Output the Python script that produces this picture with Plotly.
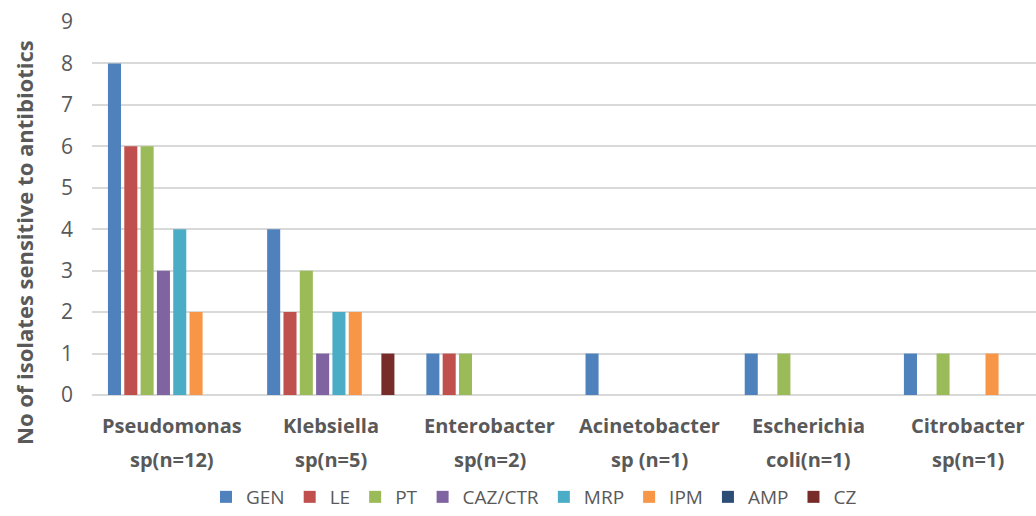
import plotly.graph_objects as go

categories = ["Pseudomonas", "Klebsiella", "Enterobacter", "Acinetobacter", "Escherichia", "Citrobacter"]
subtitles = ["sp(n=12)", "sp(n=5)", "sp(n=2)", "sp (n=1)", "coli(n=1)", "sp(n=1)"]
antibiotics = ["GEN", "LE", "PT", "CAZ/CTR", "MRP", "IPM", "AMP", "CZ"]
values = {
    "GEN":     [8, 4, 1, 1, 1, 1],
    "LE":      [6, 2, 1, 0, 0, 0],
    "PT":      [6, 3, 1, 0, 1, 1],
    "CAZ/CTR": [3, 1, 0, 0, 0, 0],
    "MRP":     [4, 2, 0, 0, 0, 0],
    "IPM":     [2, 2, 0, 0, 0, 1],
    "AMP":     [0, 0, 0, 0, 0, 0],
    "CZ":      [0, 1, 0, 0, 0, 0],
}
colors = ["#4F81BD", "#C0504D", "#9BBB59", "#8064A2", "#4BACC6", "#F79646", "#2C4D75", "#772C2A"]
y_ticks = list(range(0, 10))

FONT = "Open Sans"
TXT = "#595959"

fig = go.Figure()
for name, col in zip(antibiotics, colors):
    fig.add_trace(go.Bar(x=list(range(len(categories))), y=values[name], name=name,
                         marker=dict(color=col, line=dict(width=0))))

annotations = []
for i, (c, s) in enumerate(zip(categories, subtitles)):
    annotations.append(dict(x=i, y=0, xref="x", yref="paper", text=c, showarrow=False,
                            yshift=-30, yanchor="middle", xanchor="center",
                            font=dict(family=FONT, size=20, color=TXT, weight="bold")))
    annotations.append(dict(x=i, y=0, xref="x", yref="paper", text=s, showarrow=False,
                            yshift=-64, yanchor="middle", xanchor="center",
                            font=dict(family=FONT, size=20, color=TXT, weight="bold")))
annotations.append(dict(x=0, y=(395 - 243) / 373, xref="paper", yref="paper",
                        xshift=-68, text="No of isolates sensitive to antibiotics",
                        textangle=-90, showarrow=False, xanchor="center", yanchor="middle",
                        font=dict(family=FONT, size=22, color=TXT, weight="bold")))

fig.update_layout(
    width=1036, height=516,
    margin=dict(l=92, r=0, t=22, b=121, autoexpand=False),
    paper_bgcolor="white", plot_bgcolor="white",
    barmode="group", bargap=0.18, bargroupgap=0.2,
    font=dict(family=FONT, color=TXT),
    showlegend=True,
    legend=dict(orientation="h", xref="container", yref="container",
                x=534 / 1036, y=-0.01, xanchor="center", yanchor="bottom",
                font=dict(family=FONT, size=19, color=TXT), itemwidth=30,
                traceorder="normal", itemclick=False),
    annotations=annotations,
    xaxis=dict(range=[-0.5, 5.43], showticklabels=False, showgrid=False, zeroline=False,
               showline=False, ticks="", automargin=False),
    yaxis=dict(range=[0, 9], tickvals=y_ticks, showgrid=True, gridcolor="#D9D9D9",
               gridwidth=1.5, zeroline=True, zerolinecolor="#D9D9D9", zerolinewidth=1.5,
               showline=False, ticks="", ticklabelstandoff=18, automargin=False,
               tickfont=dict(family=FONT, size=21, color=TXT)),
)

fig.write_html("out.html", config={"displayModeBar": False},
               post_script="document.body.style.margin='0';document.body.style.overflow='hidden';")
